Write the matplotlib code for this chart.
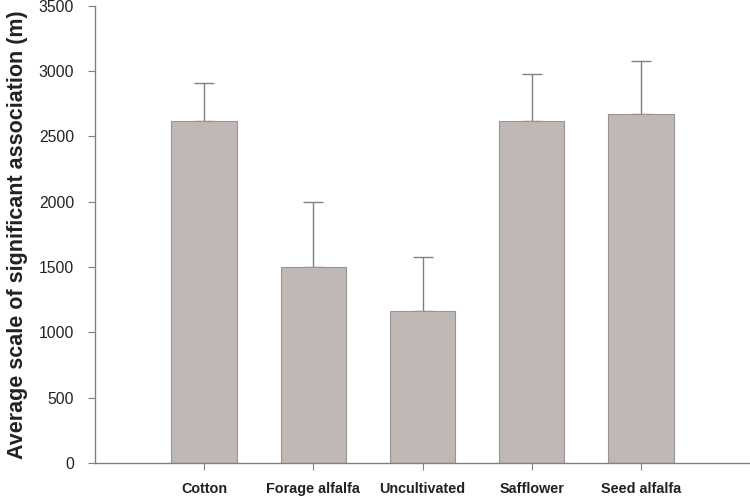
import matplotlib
matplotlib.use("Agg")
import matplotlib.pyplot as plt
import numpy as np

categories = ["Cotton", "Forage alfalfa", "Uncultivated", "Safflower", "Seed alfalfa"]
means = [2620, 1500, 1160, 2620, 2670]
upper = [2910, 2000, 1575, 2980, 3075]
errs = [u - m for u, m in zip(upper, means)]
yticks = [0, 500, 1000, 1500, 2000, 2500, 3000, 3500]

plt.rcParams['font.family'] = ['Liberation Sans', 'DejaVu Sans']
fig = plt.figure(figsize=(7.5, 4.97), dpi=100)
ax = fig.add_axes([0.1267, 0.0684, 0.8733, 0.92])
x = np.arange(len(categories))
ax.bar(x, means, width=0.6, color="#bfb8b5", edgecolor="#9a9593", linewidth=0.8, zorder=2)
ax.errorbar(x, means, yerr=[np.zeros(len(errs)), errs], fmt="none", ecolor="#808080",
            elinewidth=1.0, capsize=7, capthick=1.0, zorder=1)
ax.set_xlim(-1, 5)
ax.set_ylim(0, 3500)
ax.set_yticks(yticks)
ax.set_xticks(x)
ax.set_xticklabels(categories, fontsize=10.4, fontweight="bold", color="#222222")
for s in ["top", "right"]:
    ax.spines[s].set_visible(False)
for s in ["left", "bottom"]:
    ax.spines[s].set_color("#808080")
    ax.spines[s].set_linewidth(1.0)
ax.tick_params(axis="y", direction="out", length=5, color="#808080", labelsize=11.3, labelcolor="#222222", pad=10)
ax.tick_params(axis="x", direction="out", length=5, color="#808080", pad=9)
ax.set_ylabel("Average scale of significant association (m)", fontsize=15.5, fontweight="bold", color="#222222", labelpad=8)
fig.savefig("out.png", dpi=100)
